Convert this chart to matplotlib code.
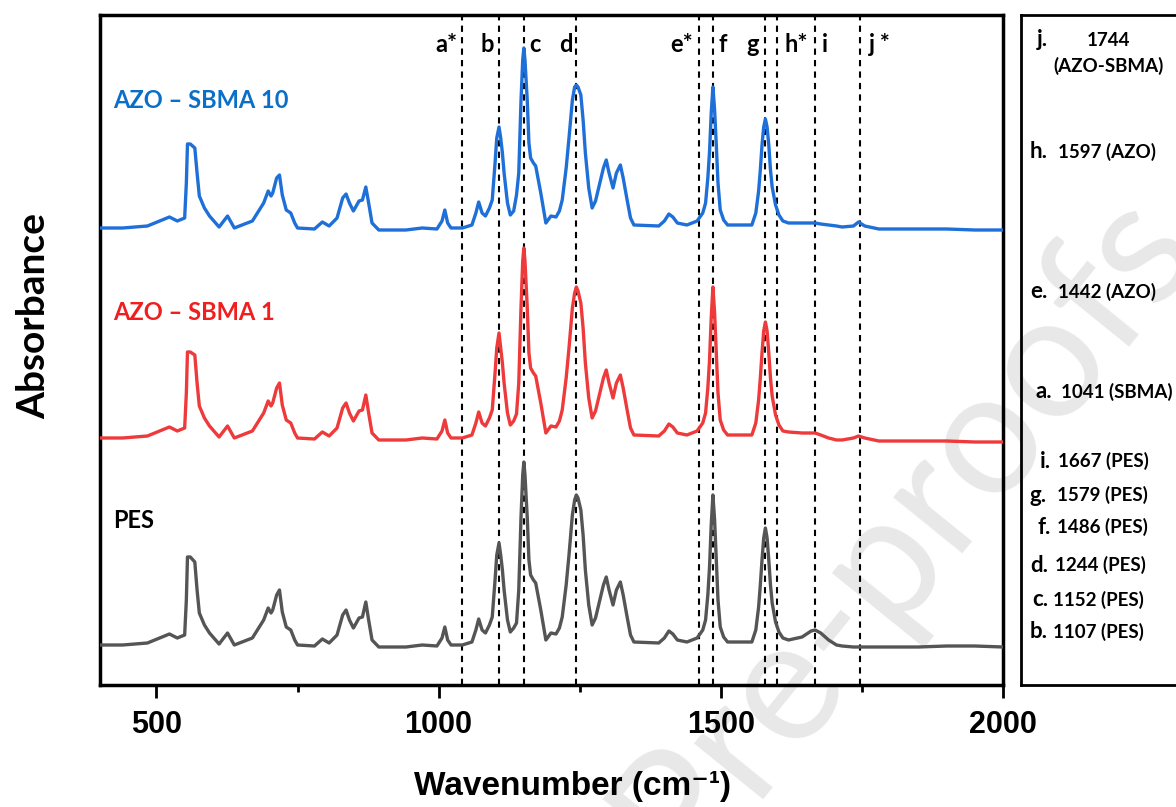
import matplotlib
matplotlib.use('Agg')
import matplotlib.pyplot as plt
from matplotlib.ticker import FixedLocator

# wavenumber grid shared by the three spectra (cm-1)
wavenumber = [400, 440, 484, 523, 537, 550, 553, 555, 560, 568,
              572, 576, 585, 594, 611, 626, 638, 670, 690, 698,
              703, 706, 713, 718, 723, 730, 738, 745, 750, 780,
              794, 806, 820, 830, 836, 842, 849, 859, 865, 871,
              876, 882, 894, 942, 971, 997, 1006, 1011, 1016, 1022,
              1042, 1059, 1066, 1071, 1077, 1083, 1090, 1095, 1100, 1103,
              1107, 1110, 1113, 1116, 1122, 1127, 1133, 1138, 1142, 1146,
              1149, 1151, 1153, 1157, 1160, 1163, 1168, 1172, 1181, 1190,
              1199, 1208, 1214, 1219, 1226, 1231, 1237, 1241, 1244, 1247,
              1252, 1256, 1260, 1266, 1272, 1278, 1287, 1292, 1297, 1302,
              1309, 1315, 1322, 1327, 1334, 1340, 1346, 1390, 1400, 1408,
              1415, 1423, 1440, 1458, 1468, 1473, 1477, 1480, 1483, 1486,
              1489, 1492, 1495, 1499, 1505, 1512, 1555, 1562, 1567, 1570,
              1573, 1576, 1579, 1582, 1585, 1588, 1591, 1597, 1603, 1610,
              1620, 1644, 1660, 1667, 1677, 1691, 1705, 1715, 1735, 1744,
              1755, 1780, 1850, 1900, 1950, 2000]

# stacked absorbance (arbitrary units)
pes = [40, 40, 42, 51, 47, 50, 85, 128, 128, 123,
       95, 72, 60, 52, 41, 52, 40, 47, 65, 77,
       72, 75, 90, 95, 73, 58, 55, 45, 40, 39,
       46, 42, 50, 70, 75, 65, 57, 67, 68, 83,
       65, 45, 38, 38, 40, 39, 47, 58, 45, 40,
       40, 43, 55, 66, 55, 52, 60, 68, 105, 130,
       142, 130, 115, 95, 65, 53, 57, 62, 95, 168,
       210, 223, 210, 168, 125, 110, 105, 102, 75, 45,
       52, 51, 57, 68, 100, 130, 170, 185, 190, 187,
       175, 150, 115, 80, 60, 67, 88, 100, 108, 95,
       80, 95, 103, 90, 68, 50, 43, 42, 47, 54,
       51, 45, 43, 47, 55, 65, 90, 118, 160, 190,
       165, 125, 85, 58, 48, 43, 43, 55, 78, 100,
       125, 147, 157, 147, 125, 100, 82, 63, 53, 47,
       45, 48, 54, 55, 52, 45, 40, 39, 38, 38,
       38, 38, 38, 39, 39, 38]

azo_sbma_1 = [247, 247, 249, 258, 254, 257, 292, 333, 333, 330,
              302, 279, 267, 259, 248, 259, 247, 254, 272, 284,
              279, 282, 297, 302, 280, 265, 262, 252, 247, 246,
              253, 249, 257, 277, 282, 272, 264, 274, 275, 290,
              272, 252, 245, 245, 247, 246, 254, 265, 252, 247,
              247, 250, 262, 273, 262, 259, 267, 275, 312, 337,
              352, 337, 322, 302, 272, 260, 264, 271, 302, 378,
              424, 437, 424, 378, 332, 317, 312, 309, 282, 252,
              259, 258, 264, 275, 307, 337, 377, 392, 398, 394,
              382, 357, 322, 287, 267, 274, 295, 307, 315, 302,
              287, 302, 310, 297, 275, 257, 250, 249, 254, 261,
              258, 252, 250, 254, 262, 272, 297, 325, 367, 398,
              372, 332, 292, 265, 255, 250, 250, 262, 285, 307,
              332, 354, 363, 354, 332, 307, 289, 270, 260, 254,
              253, 252, 252, 252, 250, 247, 245, 245, 247, 249,
              247, 244, 244, 244, 243, 243]

azo_sbma_10 = [457, 457, 459, 468, 464, 467, 502, 541, 541, 537,
               512, 489, 477, 469, 458, 469, 457, 464, 482, 494,
               489, 492, 507, 510, 490, 475, 472, 462, 457, 456,
               463, 459, 467, 487, 491, 482, 474, 484, 485, 498,
               482, 462, 455, 455, 457, 456, 464, 475, 462, 457,
               457, 460, 472, 483, 472, 469, 477, 485, 522, 547,
               558, 547, 532, 512, 482, 470, 474, 490, 512, 585,
               625, 637, 625, 585, 542, 527, 522, 519, 492, 462,
               469, 468, 474, 485, 517, 547, 585, 598, 600, 598,
               590, 565, 532, 497, 477, 484, 505, 517, 525, 512,
               497, 512, 520, 507, 485, 467, 460, 459, 464, 471,
               468, 462, 460, 464, 472, 482, 507, 533, 572, 598,
               575, 540, 502, 475, 465, 460, 460, 472, 494, 515,
               540, 558, 566, 558, 540, 515, 498, 480, 470, 464,
               462, 462, 462, 462, 461, 460, 459, 458, 459, 463,
               459, 456, 456, 456, 455, 455]

# marked bands
band_letters = ['a*', 'b', 'c', 'd', 'e*', 'f', 'g', 'h*', 'i', 'j *']
band_lines = [1041, 1107, 1152, 1244, 1461, 1486, 1579, 1600, 1667, 1746]
band_label_x = [1013, 1086, 1171, 1225, 1431, 1504, 1556, 1633, 1684, 1782]

# assignment box, top to bottom
assign_letters = ['h.', 'e.', 'a.', 'i.', 'g.', 'f.', 'd.', 'c.', 'b.']
assign_texts = ['1597 (AZO)', '1442 (AZO)', '1041 (SBMA)', '1667 (PES)',
                '1579 (PES)', '1486 (PES)', '1244 (PES)', '1152 (PES)',
                '1107 (PES)']
assign_y = [152, 292, 392, 461, 495, 527, 565, 600, 632]
assign_x = [1030, 1030, 1035, 1040, 1030, 1037, 1030, 1032, 1030]
assign_gap = [28, 28, 26, 18, 27, 20, 25, 21, 23]

W, H = 1176, 807
BOLD = ['Lato', 'DejaVu Sans']
TICKS = ['Liberation Sans', 'DejaVu Sans']


def fx(px):
    return px / W


def fy(py):
    return 1 - py / H


fig = plt.figure(figsize=(W / 100, H / 100), dpi=100)

# faint watermark behind everything
fig.text(fx(1205), fy(255), 'Journal Pre-proofs', fontsize=125, color='#e8e8e8',
         family=BOLD, rotation=51, ha='right', va='baseline',
         rotation_mode='anchor', zorder=0)

ax = fig.add_axes([fx(100), fy(685), fx(903), 670 / H], zorder=2)
ax.patch.set_alpha(0)

ax.plot(wavenumber, pes, color='#555555', lw=2.4, zorder=3,
        solid_joinstyle='round')
ax.plot(wavenumber, azo_sbma_1, color='#ee3a3a', lw=2.4, zorder=3,
        solid_joinstyle='round')
ax.plot(wavenumber, azo_sbma_10, color='#1f6fd8', lw=2.4, zorder=3,
        solid_joinstyle='round')

for xv in band_lines:
    ax.axvline(xv, color='black', lw=1.5, ls=(0, (3, 2.5)), zorder=2)

for lab, xv in zip(band_letters, band_label_x):
    ax.text(xv, 641, lab, ha='center', va='center', fontsize=17,
            fontweight='bold', family=BOLD)

ax.text(400 + 13 / 0.565, 584, 'AZO – SBMA 10', color='#0a6fc8', fontsize=17,
        fontweight='bold', family=BOLD, va='center')
ax.text(400 + 13 / 0.565, 373, 'AZO – SBMA 1', color='#f01e1e', fontsize=17,
        fontweight='bold', family=BOLD, va='center')
ax.text(400 + 13 / 0.565, 164, 'PES', color='black', fontsize=17,
        fontweight='bold', family=BOLD, va='center')

ax.set_xlim(400, 2000)
ax.set_ylim(0, 670)
ax.set_yticks([])
ax.xaxis.set_major_locator(FixedLocator([500, 1000, 1500, 2000]))
ax.xaxis.set_minor_locator(FixedLocator([750, 1250, 1750]))
ax.tick_params(axis='x', which='major', direction='out', length=9, width=2,
               pad=9)
ax.tick_params(axis='x', which='minor', direction='out', length=5, width=2)
for lab in ax.get_xticklabels():
    lab.set_fontsize(22)
    lab.set_fontweight('bold')
    lab.set_family(TICKS)
for sp in ax.spines.values():
    sp.set_linewidth(2.5)

ax.set_xlabel('Wavenumber (cm⁻¹)', fontsize=24, fontweight='bold',
              family=TICKS)
ax.xaxis.set_label_coords(0.523, -0.128)
ax.set_ylabel('Absorbance', fontsize=28, fontweight='bold', family=BOLD)
ax.yaxis.set_label_coords(-0.054, 0.55)

# assignment box on the right, partly cut by the figure edge
box = fig.add_axes([fx(1021), fy(685), fx(180), 670 / H], zorder=2)
box.patch.set_alpha(0)
box.set_xticks([])
box.set_yticks([])
for sp in box.spines.values():
    sp.set_linewidth(2)

fig.text(fx(1037), fy(40), 'j.', fontsize=16, fontweight='bold', family=BOLD,
         va='center', zorder=3)
fig.text(fx(1087), fy(40), '1744', fontsize=13.5, fontweight='bold',
         family=BOLD, va='center', zorder=3)
fig.text(fx(1053), fy(66), '(AZO-SBMA)', fontsize=13.5, fontweight='bold',
         family=BOLD, va='center', zorder=3)
for let, txt, y, x, g in zip(assign_letters, assign_texts, assign_y, assign_x,
                             assign_gap):
    fig.text(fx(x), fy(y), let, fontsize=16, fontweight='bold', family=BOLD,
             va='center', zorder=3)
    fig.text(fx(x + g), fy(y), txt, fontsize=13.5, fontweight='bold',
             family=BOLD, va='center', zorder=3)

fig.savefig('out.png', dpi=100)
